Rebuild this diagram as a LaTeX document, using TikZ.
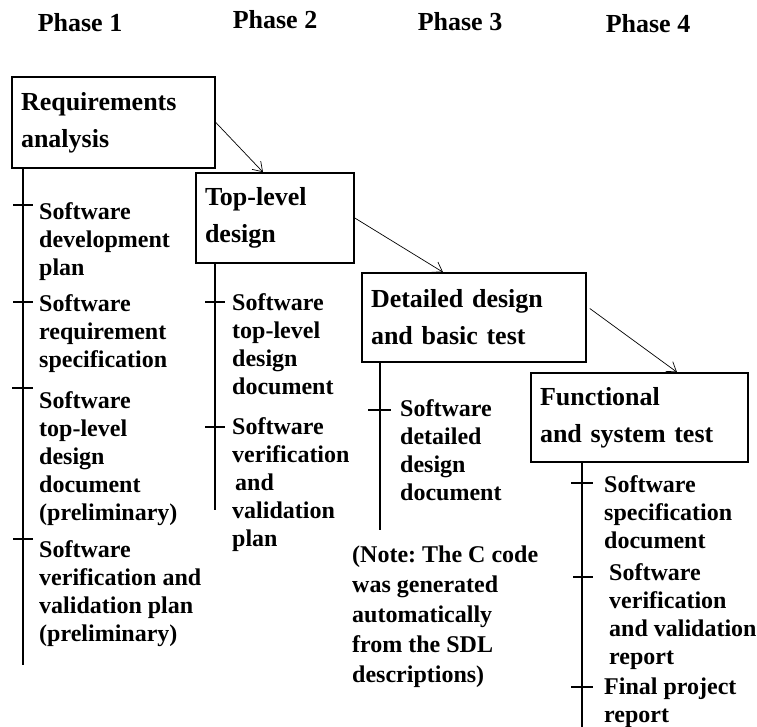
\documentclass[tikz,border=0pt]{standalone}
\usepackage{fontspec}
\setmainfont{Liberation Serif}
\usetikzlibrary{arrows.meta}
\frenchspacing

\tikzset{
  phase/.style={font=\fontsize{26}{30}\selectfont\bfseries, inner sep=0pt},
  stage/.style={draw, line width=1.6pt, align=left, inner xsep=9pt,
    font=\fontsize{26}{37}\selectfont\bfseries},
  doc/.style={anchor=north west, inner sep=0pt, align=left,
    font=\fontsize{24}{28}\selectfont\bfseries},
  trunk/.style={line width=1.6pt},
  tick/.style={line width=1.6pt},
  flow/.style={line width=0.7pt, -{Straight Barb[length=9pt,width=12pt]}}
}

\begin{document}
\begin{tikzpicture}[x=1pt, y=-1pt]
        \useasboundingbox (0,0) rectangle (757,727);

        % phase headings
        \node[phase] at (80, 23) (ph1) {Phase 1};
        \node[phase] at (275, 20) (ph2) {Phase 2};
        \node[phase] at (460, 22) (ph3) {Phase 3};
        \node[phase] at (648, 24) (ph4) {Phase 4};

        % stages
        \node[stage, text width=185pt, minimum height=91pt] at (113.5, 122.5) (req) {Requirements\\analysis};
        \node[stage, text width=140pt, minimum height=90pt] at (275, 218) (top) {Top-level\\design};
        \node[stage, text width=206pt, minimum height=89pt] at (474, 317.5) (det) {Detailed design\\and basic test};
        \node[stage, text width=199pt, minimum height=89pt] at (639.5, 417.5) (fun) {Functional\\and system test};

        \draw[flow] (req.east) -- ([xshift=-12pt]top.north);
        \draw[flow] (top.east) -- ([xshift=-31pt]det.north);
        \draw[flow] ([xshift=3pt, yshift=9pt]det.east) -- ([xshift=37.5pt]fun.north);

        % phase 1 documents
        \coordinate (e1) at (23, 665);
        \draw[trunk] (e1 |- req.south) -- (e1);
        \draw[tick] (13, 205) -- (33, 205);
        \draw[tick] (13, 302) -- (33, 302);
        \draw[tick] (12, 388) -- (33, 388);
        \draw[tick] (13, 539) -- (33, 539);
        \node[doc] at (39, 202) (d11) {Software\\development\\plan};
        \node[doc] at (39, 294) (d12) {Software\\requirement\\specification};
        \node[doc] at (39, 391) (d13) {Software\\top-level\\design\\document\\(preliminary)};
        \node[doc] at (39, 540) (d14) {Software\\verification and\\validation plan\\(preliminary)};

        % phase 2 documents
        \coordinate (e2) at (215, 510);
        \draw[trunk] (e2 |- top.south) -- (e2);
        \draw[tick] (205, 302) -- (225, 302);
        \draw[tick] (205, 427) -- (225, 427);
        \node[doc] at (232, 293) (d21) {Software\\top-level\\design\\document};
        \node[doc] at (232, 417) (d22) {Software\\verification\\\hspace*{3pt}and\\validation\\plan};

        % phase 3 documents
        \coordinate (e3) at (380, 530);
        \draw[trunk] (e3 |- det.south) -- (e3);
        \draw[tick] (368, 410) -- (391, 410);
        \node[doc] at (400, 399) (d31) {Software\\detailed\\design\\document};
        \node[doc, font=\fontsize{24}{30}\selectfont\bfseries] at (352, 546) (note) {(Note: The C code\\was generated\\automatically\\from the SDL\\descriptions)};

        % phase 4 documents
        \coordinate (e4) at (582, 727);
        \draw[trunk] (e4 |- fun.south) -- (e4);
        \draw[tick] (571, 483) -- (593, 483);
        \draw[tick] (573, 577) -- (593, 577);
        \draw[tick] (571, 687) -- (593, 687);
        \node[doc] at (604, 475) (d41) {Software\\specification\\document};
        \node[doc] at (609, 563) (d42) {Software\\verification\\and validation\\report};
        \node[doc] at (604, 678) (d43) {Final project\\report};
    \end{tikzpicture}
\end{document}
